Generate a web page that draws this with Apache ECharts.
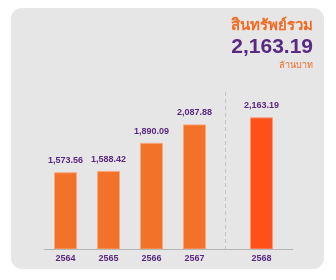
<!DOCTYPE html>
<html><head><meta charset="utf-8">
<script src="https://cdn.jsdelivr.net/npm/echarts@6/dist/echarts.min.js"></script>
<style>html,body{margin:0;padding:0;background:#fff}#c{width:336px;height:280px}</style>
</head><body><div id="c"></div>
<script>
const categoriesPast = ['2564', '2565', '2566', '2567'];
const valuesPast = [1573.56, 1588.42, 1890.09, 2087.88];
const categoriesCurrent = ['2568'];
const valuesCurrent = [2163.19];
const titleText = 'สินทรัพย์รวม';
const totalText = '2,163.19';
const unitText = 'ล้านบาท';

const fmt = v => v.toLocaleString('en-US', {minimumFractionDigits: 2, maximumFractionDigits: 2});
const purple = '#5A2A82';
const font = 'Liberation Sans, Arial, sans-serif';

const chart = echarts.init(document.getElementById('c'), null, {renderer: 'canvas'});
const yCommon = {type: 'value', min: 750, max: 2500, show: false};
const xLabel = {color: purple, fontWeight: 'bold', fontSize: 9, fontFamily: font, margin: 5};
const barLabel = {show: true, position: 'top', distance: 7, color: purple, fontWeight: 'bold', fontSize: 9, fontFamily: font, formatter: p => fmt(p.value)};
chart.setOption({
  animation: false,
  backgroundColor: '#fff',
  grid: [
    {left: 44, width: 172, top: 86, bottom: 31},
    {left: 218.5, width: 86, top: 86, bottom: 31}
  ],
  xAxis: [
    {type: 'category', gridIndex: 0, data: categoriesPast, axisLine: {show: false}, axisTick: {show: false}, axisLabel: xLabel},
    {type: 'category', gridIndex: 1, data: categoriesCurrent, axisLine: {show: false}, axisTick: {show: false}, axisLabel: xLabel}
  ],
  yAxis: [
    Object.assign({gridIndex: 0}, yCommon),
    Object.assign({gridIndex: 1}, yCommon)
  ],
  graphic: [
    {type: 'rect', z: -10, shape: {x: 11, y: 8, width: 313, height: 261, r: 11}, style: {fill: '#E6E6E6'}},
    {type: 'line', z: 10, shape: {x1: 44, y1: 249.5, x2: 293, y2: 249.5}, style: {stroke: '#B5B5B5', lineWidth: 1}},
    {type: 'line', z: 1, shape: {x1: 225.5, y1: 92, x2: 225.5, y2: 249}, style: {stroke: '#C4C4C4', lineWidth: 1, lineDash: [4, 3]}},
    {type: 'text', right: 23, top: 18, style: {text: titleText, fill: '#F26B22', fontSize: 15, fontFamily: 'Noto Sans, sans-serif', fontWeight: 'bold'}},
    {type: 'text', right: 23, top: 37, style: {text: totalText, fill: purple, fontSize: 21, fontFamily: font, fontWeight: 'bold'}},
    {type: 'text', right: 23, top: 61, style: {text: unitText, fill: '#F26B22', fontSize: 9, fontFamily: 'Noto Sans, sans-serif'}}
  ],
  series: [
    {type: 'bar', xAxisIndex: 0, yAxisIndex: 0, data: valuesPast, barWidth: 23,
     itemStyle: {color: '#F37229', borderColor: '#F7A87E', borderWidth: 1}, label: barLabel},
    {type: 'bar', xAxisIndex: 1, yAxisIndex: 1, data: valuesCurrent, barWidth: 23,
     itemStyle: {color: '#FF501A', borderColor: '#FF9A78', borderWidth: 1}, label: barLabel}
  ]
});
</script></body></html>
